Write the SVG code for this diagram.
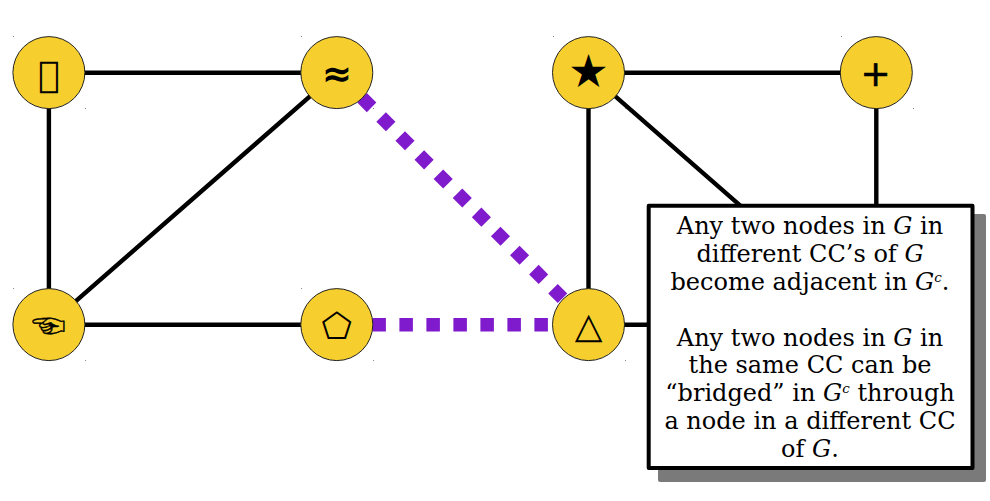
<svg xmlns="http://www.w3.org/2000/svg" width="990" height="501" viewBox="0 0 990 501">
<style>
.edge{fill:none;stroke:#000;stroke-width:4.4}
.dash{fill:none;stroke:#7f1bcc;stroke-width:13.5;stroke-dasharray:13.5 13.5;stroke-dashoffset:-8.4}
.disc{fill:#f6cf2f;stroke:#222;stroke-width:1}
.glyph{font-family:"DejaVu Sans",sans-serif;font-weight:bold;font-size:36px;text-anchor:middle;fill:#000}
.cjk{font-family:"Noto Sans CJK SC","DejaVu Sans",sans-serif}
.thin{font-weight:normal;stroke:#000;stroke-width:.6}
.speck{fill:#888}
.note{font-family:"DejaVu Serif",serif;font-size:24px;text-anchor:middle;fill:#000}
.note .i{font-style:italic}
.note .s{font-style:italic;font-size:13.5px}
</style>
<g id="connectors">
<path class="edge" d="M48.900 72.800H336.800M48.900 72.800V324.700M336.800 72.800L48.900 324.700M48.900 324.700H336.800"/>
<path class="edge" d="M588.500 72.800H876.300M588.500 72.800V324.700M588.500 72.800L876.300 324.700M876.300 72.800V324.700M588.500 324.700H876.300"/>
<path class="dash" d="M337 324.700H589"/>
<path class="dash" d="M337 72.800L589 324.700"/>
</g>
<g id="n1"><circle class="disc" cx="48.900" cy="72.600" r="36"/><text class="glyph" x="48.900" y="87">&#xE000;</text><rect class="speck" x="13" y="36" width="1" height="1"/><rect class="speck" x="85" y="108" width="1" height="1"/></g>
<g id="n2"><circle class="disc" cx="336.800" cy="72.600" r="36"/><text class="glyph" x="336.800" y="86">≈</text><rect class="speck" x="301" y="36" width="1" height="1"/><rect class="speck" x="373" y="108" width="1" height="1"/></g>
<g id="n3"><circle class="disc" cx="48.900" cy="324.600" r="36"/><text class="glyph cjk" x="48.400" y="337.500" style="font-size:34px;stroke:#000;stroke-width:.5">☜</text><rect class="speck" x="13" y="288" width="1" height="1"/><rect class="speck" x="85" y="360" width="1" height="1"/></g>
<g id="n4"><circle class="disc" cx="336.800" cy="324.600" r="36"/><text class="glyph" x="336.800" y="338" style="font-size:35px">⬠</text><rect class="speck" x="301" y="288" width="1" height="1"/><rect class="speck" x="373" y="360" width="1" height="1"/></g>
<g id="n5"><circle class="disc" cx="588.500" cy="72.600" r="36"/><text class="glyph cjk" x="588.500" y="85" style="font-size:37px">★</text><rect class="speck" x="553" y="36" width="1" height="1"/><rect class="speck" x="625" y="108" width="1" height="1"/></g>
<g id="n6"><circle class="disc" cx="876.300" cy="72.600" r="36"/><text class="glyph thin" x="875.500" y="86">+</text><rect class="speck" x="841" y="36" width="1" height="1"/><rect class="speck" x="913" y="108" width="1" height="1"/></g>
<g id="n7"><circle class="disc" cx="588.500" cy="324.600" r="36"/><text class="glyph" x="588.500" y="338">△</text><rect class="speck" x="625" y="360" width="1" height="1"/></g>
<g id="note">
<rect x="658" y="214" width="328" height="268" rx="2" fill="#7a7a7a"/>
<rect x="648.700" y="205.700" width="323.800" height="262.300" fill="#fff" stroke="#000" stroke-width="4" stroke-linejoin="round"/>
<text class="note" x="810" y="234">Any two nodes in <tspan class="i">G</tspan> in</text>
<text class="note" x="810" y="262">different CC’s of <tspan class="i">G</tspan></text>
<text class="note" x="810" y="290">become adjacent in <tspan class="i">G</tspan><tspan class="s" dy="-8">c</tspan><tspan dy="8">.</tspan></text>
<text class="note" x="810" y="345.500">Any two nodes in <tspan class="i">G</tspan> in</text>
<text class="note" x="810" y="373">the same CC can be</text>
<text class="note" x="810" y="401">“bridged” in <tspan class="i">G</tspan><tspan class="s" dy="-8">c</tspan><tspan dy="8"> through</tspan></text>
<text class="note" x="810" y="429">a node in a different CC</text>
<text class="note" x="810" y="456.500">of <tspan class="i">G</tspan>.</text>
</g>
</svg>
